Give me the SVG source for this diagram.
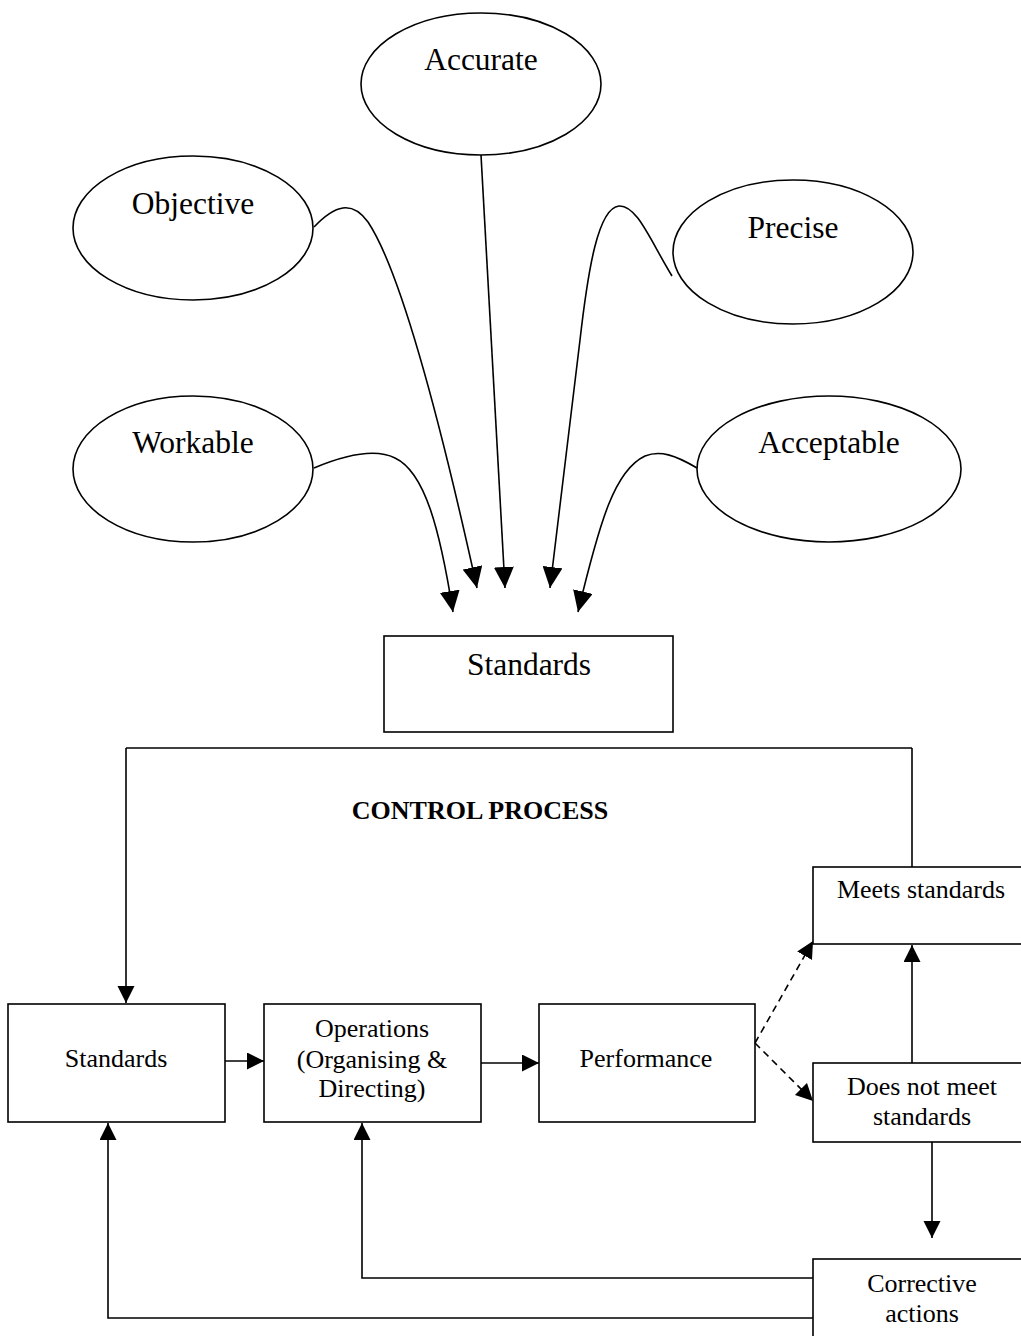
<svg xmlns="http://www.w3.org/2000/svg" width="1021" height="1336" viewBox="0 0 1021 1336">
  <style>
    .shape { fill: #fff; stroke: #000; stroke-width: 1.6; }
    .big { font-family: "Liberation Serif", "Times New Roman", serif; font-size: 31.5px; fill: #000; text-anchor: middle; }
    .small { font-family: "Liberation Serif", "Times New Roman", serif; font-size: 26px; fill: #000; text-anchor: middle; }
    .title { font-family: "Liberation Serif", "Times New Roman", serif; font-size: 26px; font-weight: bold; fill: #000; text-anchor: middle; }
    .wire { fill: none; stroke: #000; stroke-width: 1.6; }
    .dash { stroke-dasharray: 7 5; }
    .arrow-lg { marker-end: url(#headLarge); }
    .arrow-sm { marker-end: url(#headSmall); }
  </style>
  <defs>
    <marker id="headLarge" markerUnits="userSpaceOnUse" markerWidth="22" markerHeight="20" refX="21" refY="10" orient="auto">
      <path d="M0,0 L21,10 L0,20 z" fill="#000"/>
    </marker>
    <marker id="headSmall" markerUnits="userSpaceOnUse" markerWidth="18" markerHeight="18" refX="17" refY="8.5" orient="auto">
      <path d="M0,0 L17,8.5 L0,17 z" fill="#000"/>
    </marker>
  </defs>

  <rect width="1021" height="1336" fill="#fff"/>

  <!-- qualities of good standards -->
  <g id="accurate">
    <ellipse class="shape" cx="481" cy="84" rx="120" ry="71"/>
    <text class="big" x="481" y="70">Accurate</text>
  </g>
  <g id="objective">
    <ellipse class="shape" cx="193" cy="228" rx="120" ry="72"/>
    <text class="big" x="193" y="214">Objective</text>
  </g>
  <g id="precise">
    <ellipse class="shape" cx="793" cy="252" rx="120" ry="72"/>
    <text class="big" x="793" y="238">Precise</text>
  </g>
  <g id="workable">
    <ellipse class="shape" cx="193" cy="469" rx="120" ry="73"/>
    <text class="big" x="193" y="453">Workable</text>
  </g>
  <g id="acceptable">
    <ellipse class="shape" cx="829" cy="469" rx="132" ry="73"/>
    <text class="big" x="829" y="453">Acceptable</text>
  </g>

  <g id="standards-top">
    <rect class="shape" x="384" y="636" width="289" height="96"/>
    <text class="big" x="529" y="675">Standards</text>
  </g>

  <text class="title" x="480" y="819">CONTROL PROCESS</text>

  <!-- control process boxes -->
  <g id="standards">
    <rect class="shape" x="8" y="1004" width="217" height="118"/>
    <text class="small" x="116" y="1067">Standards</text>
  </g>
  <g id="operations">
    <rect class="shape" x="264" y="1004" width="217" height="118"/>
    <text class="small" x="372" y="1037">Operations</text>
    <text class="small" x="372" y="1068">(Organising &amp;</text>
    <text class="small" x="372" y="1097">Directing)</text>
  </g>
  <g id="performance">
    <rect class="shape" x="539" y="1004" width="216" height="118"/>
    <text class="small" x="646" y="1067">Performance</text>
  </g>
  <g id="meets">
    <rect class="shape" x="813" y="867" width="217" height="77"/>
    <text class="small" x="921" y="898">Meets standards</text>
  </g>
  <g id="not-meets">
    <rect class="shape" x="813" y="1063" width="217" height="79"/>
    <text class="small" x="922" y="1095">Does not meet</text>
    <text class="small" x="922" y="1125">standards</text>
  </g>
  <g id="corrective">
    <rect class="shape" x="813" y="1259" width="217" height="90"/>
    <text class="small" x="922" y="1292">Corrective</text>
    <text class="small" x="922" y="1322">actions</text>
  </g>

  <g id="connectors">
    <!-- qualities into standards -->
    <path class="wire arrow-lg" d="M314,227 C335,205 352,200 368,222 C400,270 440,420 477,588"/>
    <path class="wire arrow-lg" d="M481,155 L505,588"/>
    <path class="wire arrow-lg" d="M672,276 C650,240 637,205 619,206 C598,208 588,270 580,340 L550,588"/>
    <path class="wire arrow-lg" d="M314,468 C345,455 375,448 395,458 C425,472 440,530 453,612"/>
    <path class="wire arrow-lg" d="M697,468 C675,455 660,450 645,456 C615,470 600,520 578,612"/>

    <!-- feedback loop from standards to process -->
    <path class="wire" d="M126,748 L912,748"/>
    <path class="wire arrow-sm" d="M126,748 L126,1003"/>
    <path class="wire" d="M912,748 L912,867"/>

    <!-- main flow -->
    <path class="wire arrow-sm" d="M225,1061 L264,1061"/>
    <path class="wire arrow-sm" d="M481,1063 L539,1063"/>
    <path class="wire dash arrow-sm" d="M755,1043 L813,941"/>
    <path class="wire dash arrow-sm" d="M755,1043 L813,1101"/>
    <path class="wire arrow-sm" d="M912,1063 L912,945"/>
    <path class="wire arrow-sm" d="M932,1142 L932,1238"/>

    <!-- corrective feedback -->
    <path class="wire arrow-sm" d="M813,1278 L362,1278 L362,1123"/>
    <path class="wire arrow-sm" d="M813,1318 L108,1318 L108,1123"/>
  </g>
</svg>
